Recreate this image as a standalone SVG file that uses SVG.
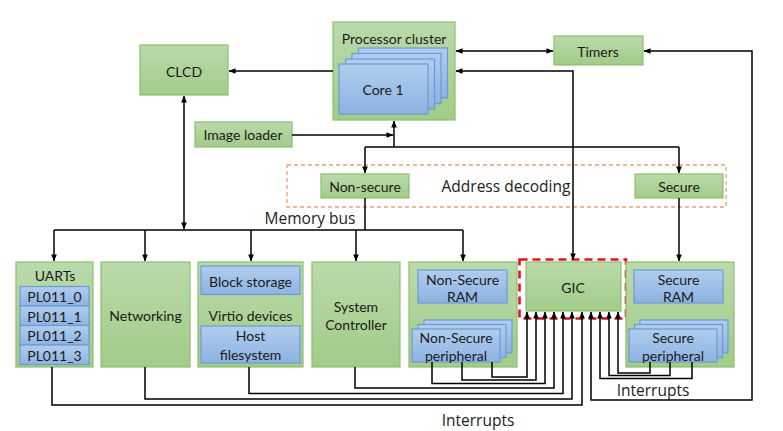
<svg xmlns="http://www.w3.org/2000/svg" width="783" height="431" viewBox="0 0 783 431">
<defs>
<linearGradient id="gG" x1="0" y1="0" x2="0" y2="1"><stop offset="0" stop-color="#BADAAA"/><stop offset="1" stop-color="#A2CB88"/></linearGradient>
<linearGradient id="gB" x1="0" y1="0" x2="0" y2="1"><stop offset="0" stop-color="#B0CDEE"/><stop offset="1" stop-color="#8DB3E2"/></linearGradient>
<marker id="ah" viewBox="0 0 8 8" refX="7.5" refY="4" markerWidth="7" markerHeight="7" markerUnits="userSpaceOnUse" orient="auto-start-reverse"><path d="M0,0.8 L8,4 L0,7.2 z" fill="#000"/></marker>
</defs>
<style>
.g{fill:url(#gG);stroke:#8CBE70;stroke-width:1.2}
.b{fill:url(#gB);stroke:#6C9BD3;stroke-width:1.2}
.t{font-family:Lato,"Liberation Sans",sans-serif;font-size:14px;fill:#1a1a1a;text-anchor:middle;dominant-baseline:central}
.L{font-family:"Open Sans","Liberation Sans",sans-serif;font-size:15.5px;fill:#222;text-anchor:middle;dominant-baseline:central}
.c{fill:none;stroke:#000;stroke-width:1.5}
.a{marker-end:url(#ah)}
.s{marker-start:url(#ah)}
</style>
<rect width="783" height="431" fill="#fff"/>

<g id="address-decoding">
<rect x="287" y="165" width="439" height="42" fill="none" stroke="#E2A27A" stroke-width="1.3" stroke-dasharray="4,3"/>
<text class="L" x="506" y="186">Address decoding</text>
</g>

<g id="processor-cluster">
<rect class="g" x="333" y="22" width="122" height="98"/>
<text class="t" x="394" y="38">Processor cluster</text>
<rect class="b" x="358.5" y="48" width="89" height="50"/>
<rect class="b" x="352" y="53.5" width="89" height="50"/>
<rect class="b" x="345.5" y="59" width="89" height="50"/>
<rect class="b" x="339" y="64" width="89" height="50"/>
<text class="t" x="383" y="89">Core 1</text>
</g>

<g id="clcd"><rect class="g" x="140" y="45" width="88" height="50"/><text class="t" x="184" y="71">CLCD</text></g>
<g id="timers"><rect class="g" x="554" y="36" width="89" height="29"/><text class="t" x="598" y="51">Timers</text></g>
<g id="image-loader"><rect class="g" x="195" y="122" width="97" height="25"/><text class="t" x="243" y="134.5">Image loader</text></g>
<g id="non-secure"><rect class="g" x="321" y="174" width="88" height="24"/><text class="t" x="365" y="186">Non-secure</text></g>
<g id="secure"><rect class="g" x="635" y="174" width="88" height="24"/><text class="t" x="679" y="186">Secure</text></g>

<g id="uarts">
<rect class="g" x="16" y="262" width="77" height="105"/>
<text class="t" x="55" y="275">UARTs</text>
<rect class="b" x="20" y="286.5" width="69" height="19.5"/><text class="t" x="54.5" y="296.5">PL011_0</text>
<rect class="b" x="20" y="306" width="69" height="19.5"/><text class="t" x="54.5" y="316">PL011_1</text>
<rect class="b" x="20" y="325.5" width="69" height="19.5"/><text class="t" x="54.5" y="335.5">PL011_2</text>
<rect class="b" x="20" y="345" width="69" height="19.5"/><text class="t" x="54.5" y="355">PL011_3</text>
</g>

<g id="networking"><rect class="g" x="101" y="262" width="89" height="105"/><text class="t" x="145.5" y="315">Networking</text></g>

<g id="virtio-devices">
<rect class="g" x="198" y="262" width="105" height="105"/>
<rect class="b" x="201" y="266" width="99" height="28.5"/><text class="t" x="250.5" y="281">Block storage</text>
<text class="t" x="250.5" y="315">Virtio devices</text>
<rect class="b" x="201" y="326" width="99" height="37"/><text class="t" x="250.5" y="335.5">Host</text><text class="t" x="250.5" y="354">filesystem</text>
</g>

<g id="system-controller"><rect class="g" x="312" y="262" width="88" height="105"/><text class="t" x="356" y="306">System</text><text class="t" x="356" y="324">Controller</text></g>

<g id="non-secure-group">
<rect class="g" x="409" y="262" width="108" height="105"/>
<rect class="b" x="418" y="270" width="89" height="33"/><text class="t" x="462.5" y="279">Non-Secure</text><text class="t" x="462.5" y="296">RAM</text>
<rect class="b" x="424" y="320" width="88" height="33"/>
<rect class="b" x="418" y="324.5" width="88" height="33"/>
<rect class="b" x="412" y="329" width="88" height="33"/>
<text class="t" x="456" y="337.5">Non-Secure</text><text class="t" x="456" y="355">peripheral</text>
</g>

<g id="gic">
<rect class="g" x="526" y="262" width="95" height="49"/>
<text class="t" x="573" y="287">GIC</text>
<rect x="519.5" y="259.5" width="106.5" height="59" fill="none" stroke="#E8141B" stroke-width="2.6" stroke-dasharray="8,5"/>
</g>

<g id="secure-group">
<rect class="g" x="626" y="262" width="108" height="105"/>
<rect class="b" x="634" y="270" width="89" height="33"/><text class="t" x="678.5" y="279">Secure</text><text class="t" x="678.5" y="296">RAM</text>
<rect class="b" x="640" y="320" width="88" height="33"/>
<rect class="b" x="634.5" y="324.5" width="88" height="33"/>
<rect class="b" x="629" y="329" width="88" height="33"/>
<text class="t" x="673" y="337.5">Secure</text><text class="t" x="673" y="355">peripheral</text>
</g>

<g id="connectors">
<path class="c a" d="M333,71 H229"/>
<path class="c a s" d="M456,51 H553"/>
<path class="c a s" d="M573,260 V71 H456"/>
<path class="c a s" d="M591,312 V400 H752 V51 H644"/>
<path class="c a" d="M292,135 H393"/>
<path class="c a" d="M394,147 V121"/>
<path class="c" d="M365,147 H679"/>
<path class="c a" d="M365,147 V173"/>
<path class="c a" d="M679,147 V173"/>
<path class="c" d="M365,198 V230"/>
<path class="c" d="M54,230 H463"/>
<path class="c a" d="M54,230 V261"/>
<path class="c a" d="M145,230 V261"/>
<path class="c a" d="M251,230 V261"/>
<path class="c a" d="M356,230 V261"/>
<path class="c a" d="M463,230 V261"/>
<path class="c a s" d="M184,229 V96"/>
<path class="c a" d="M679,198 V261"/>
<path class="c a" d="M492,362 V377 H527 V312"/>
<path class="c a" d="M462,362 V380 H536 V312"/>
<path class="c a" d="M432,362 V383.5 H545 V312"/>
<path class="c a" d="M355,367 V388 H554 V312"/>
<path class="c a" d="M249,367 V393.5 H563 V312"/>
<path class="c a" d="M145,367 V399 H572 V312"/>
<path class="c a" d="M52,367 V405 H582 V312"/>
<path class="c a" d="M650,362 V373 H618 V312"/>
<path class="c a" d="M670,362 V375.5 H609 V312"/>
<path class="c a" d="M692,362 V378.5 H600 V312"/>
</g>

<text class="L" x="310" y="218">Memory bus</text>
<text class="L" x="653" y="390">Interrupts</text>
<text class="L" x="478" y="420">Interrupts</text>
</svg>
